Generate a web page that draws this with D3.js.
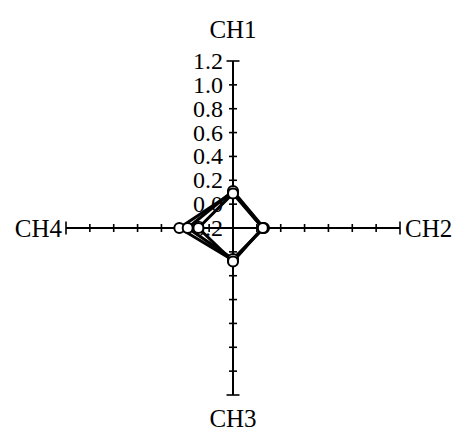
<!DOCTYPE html>
<html>
<head>
<meta charset="utf-8">
<script src="https://cdn.jsdelivr.net/npm/d3@7"></script>
<style>
  html, body { margin: 0; padding: 0; background: #fff; }
  svg { display: block; }
  text { font-family: "Liberation Serif", "Times New Roman", serif; fill: #000; }
</style>
</head>
<body>
<svg id="chart" width="457" height="435"></svg>
<script>
// Channels, clockwise from the top
const channels = ["CH1", "CH2", "CH3", "CH4"];

// Radial scale ticks and their labels (shown on the CH1 axis)
const tickValues = [-0.2, 0.0, 0.2, 0.4, 0.6, 0.8, 1.0, 1.2];
const tickLabels = ["-0.2", "0.0", "0.2", "0.4", "0.6", "0.8", "1.0", "1.2"];

// Series values per channel (CH1, CH2, CH3, CH4)
const seriesA = [0.10, 0.05, 0.07, 0.25];
const seriesB = [0.11, 0.06, 0.06, 0.18];
const seriesC = [0.09, 0.05, 0.08, 0.09];
const series = [seriesA, seriesB, seriesC];

const svg = d3.select("#chart");
const cx = 233, cy = 228;

const r = d3.scaleLinear().domain([-0.2, 1.2]).range([0, 167]);
const angle = d3.scalePoint().domain(channels).range([0, 2 * Math.PI * 3 / 4]);

const g = svg.append("g").attr("transform", `translate(${cx},${cy})`);

// Point on a channel axis at a given value
function pos(ch, v) {
  const a = angle(ch);
  return [Math.sin(a) * r(v), -Math.cos(a) * r(v)];
}

// Tick labels along CH1
g.append("g").selectAll("text")
  .data(tickValues)
  .join("text")
  .attr("x", -10)
  .attr("y", d => -r(d) + 8)
  .attr("text-anchor", "end")
  .attr("font-size", 24)
  .text((d, i) => tickLabels[i]);

// Axes with crossing tick marks and an end cap at the maximum
const axes = g.append("g").attr("stroke", "#000").attr("fill", "none");
channels.forEach(ch => {
  const a = angle(ch);
  const end = pos(ch, 1.2);
  axes.append("line")
    .attr("x1", 0).attr("y1", 0)
    .attr("x2", end[0]).attr("y2", end[1])
    .attr("stroke-width", 2);
  const nx = Math.cos(a), ny = Math.sin(a);
  tickValues.slice(1).forEach(v => {
    const p = pos(ch, v);
    const len = v === 1.2 ? 6.5 : 4;
    axes.append("line")
      .attr("x1", p[0] - nx * len).attr("y1", p[1] - ny * len)
      .attr("x2", p[0] + nx * len).attr("y2", p[1] + ny * len)
      .attr("stroke-width", 1.6);
  });
});

// Channel titles at the axis ends
const titlePos = {
  CH1: { x: 0, y: 38 - cy, anchor: "middle" },
  CH2: { x: 405 - cx, y: 237 - cy, anchor: "start" },
  CH3: { x: 0, y: 427 - cy, anchor: "middle" },
  CH4: { x: 62 - cx, y: 237 - cy, anchor: "end" }
};
g.append("g").selectAll("text")
  .data(channels)
  .join("text")
  .attr("x", d => titlePos[d].x)
  .attr("y", d => titlePos[d].y)
  .attr("text-anchor", d => titlePos[d].anchor)
  .attr("font-size", 25)
  .text(d => d);

// Series polygons
const line = d3.lineRadial()
  .angle((d, i) => angle(channels[i]))
  .radius(d => r(d))
  .curve(d3.curveLinearClosed);

g.append("g").selectAll("path")
  .data(series)
  .join("path")
  .attr("d", line)
  .attr("fill", "none")
  .attr("stroke", "#000")
  .attr("stroke-width", 3)
  .attr("stroke-linejoin", "round");

// Open circle markers
series.forEach(s => {
  g.append("g").selectAll("circle")
    .data(s)
    .join("circle")
    .attr("cx", (d, i) => pos(channels[i], d)[0])
    .attr("cy", (d, i) => pos(channels[i], d)[1])
    .attr("r", 5)
    .attr("fill", "#fff")
    .attr("stroke", "#000")
    .attr("stroke-width", 2);
});
</script>
</body>
</html>
